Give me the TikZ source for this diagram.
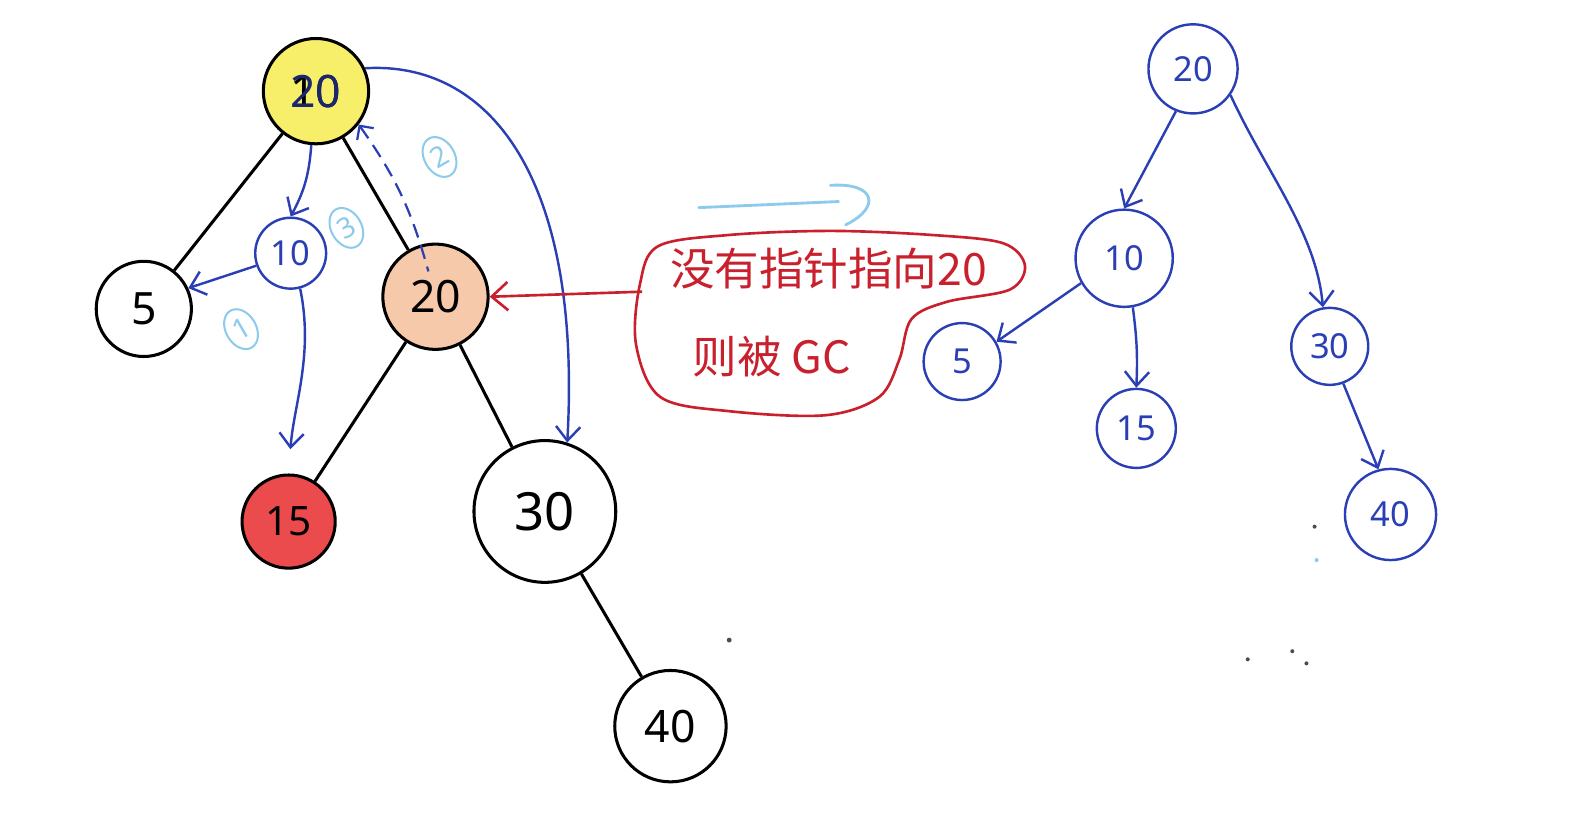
\documentclass[tikz,border=0pt]{standalone}
\usepackage{fontspec}
\newfontfamily\cjk{Noto Sans CJK SC}
\newfontfamily\hand{Noto Sans}
\usetikzlibrary{arrows.meta,shapes.geometric}
\definecolor{penblue}{HTML}{2B3FB5}
\definecolor{lightpen}{HTML}{8CCBEB}
\definecolor{penred}{HTML}{C8202C}
\definecolor{hlyellow}{HTML}{F7EE6A}
\definecolor{hlpeach}{HTML}{F5C9AA}
\definecolor{hlred}{HTML}{EC4B4D}
\begin{document}
\begin{tikzpicture}[x=0.5pt,y=-0.5pt,
  bnode/.style={circle,draw=black,line width=1.5pt,inner sep=0pt,font=\hand\fontsize{22}{22}\selectfont},
  unode/.style={circle,draw=penblue,line width=1.2pt,inner sep=0pt,text=penblue,font=\hand\fontsize{17}{17}\selectfont},
  bedge/.style={draw=black,line width=1.5pt},
  barrow/.style={draw=penblue,line width=1.2pt,-{Straight Barb[length=7pt,width=12pt]}},
  tag/.style={ellipse,draw=lightpen,line width=1pt,text=lightpen,inner sep=0pt,minimum width=15pt,minimum height=21pt,font=\hand\fontsize{14}{14}\selectfont}]
\useasboundingbox (0,0) rectangle (1568,820);

% ---- left tree ----
\node[bnode,fill=hlyellow,minimum size=52pt] (root) at (312,90) {\ooalign{\hfil 10\hfil\cr\hfil\textcolor{penblue!60!black}{20}\hfil}};
\node[bnode,minimum size=47pt] (n5) at (142,305) {5};
\node[unode,minimum size=35pt] (b10) at (287,250) {10};
\node[bnode,fill=hlpeach,minimum size=52pt] (o20) at (430,293) {20};
\node[bnode,fill=hlred,minimum size=46pt,font=\hand\fontsize{20}{20}\selectfont] (r15) at (285,515) {15};
\node[bnode,minimum size=70pt,font=\hand\fontsize{26}{26}\selectfont] (n30) at (538,505) {30};
\node[bnode,minimum size=55pt] (n40) at (662,717) {40};

\draw[bedge] (root) -- (n5);
\draw[bedge] (root) -- (o20);
\draw[bedge] (o20) -- (r15);
\draw[bedge] (o20) -- (n30);
\draw[bedge] (n30) -- (n40);

% blue pointer changes
\draw[barrow] (root.-95) to[bend left=12] (b10.north);
\draw[barrow] (b10.-160) -- (n5.25);
\draw[barrow,shorten >=12pt] (b10.-75) .. controls (310,350) and (290,400) .. (r15.north);
\draw[barrow] (root.25) .. controls (480,60) and (575,170) .. (n30.72);
\coordinate (dstart) at (423,268);
\draw[penblue,line width=1.1pt,dashed,dash pattern=on 7pt off 4pt,{Straight Barb[length=5pt,width=10pt]}-] (root.-38) to[bend left=10] (dstart);

\node[tag,rotate=30] (t1) at (238,325) {1};
\node[tag,rotate=30] (t2) at (434,155) {2};
\node[tag,rotate=30] (t3) at (342,225) {3};

% ---- transition arrow ----
\coordinate (sa) at (690,205);
\coordinate (sb) at (828,199);
\draw[lightpen,line width=1.4pt,line cap=round] (sa) -- (sb);
\coordinate (ha) at (820,183);
\coordinate (hb) at (835,222);
\draw[lightpen,line width=1.4pt,line cap=round] (ha) .. controls (865,180) and (870,205) .. (hb);

% ---- red bubble ----
\draw[penred,line width=1.3pt] plot[smooth cycle,tension=0.55] coordinates {
  (650,243) (720,232) (820,228) (920,232) (990,240) (1012,262) (997,286)
  (935,298) (900,315) (888,355) (868,392) (815,410) (720,406) (652,392) (628,340) (632,280)};
\node[text=penred,font=\cjk\fontsize{22}{22}\selectfont,inner sep=0pt] (msg1) at (818,265) {没有指针指向20};
\node[text=penred,font=\cjk\fontsize{22}{22}\selectfont,inner sep=0pt] (msg2) at (762,352) {则被 GC};
\coordinate (bl) at (634,288);
\draw[penred,line width=1.3pt,-{Straight Barb[length=8pt,width=14pt]}] (bl) -- (o20.east);

% ---- right tree ----
\node[unode,minimum size=44pt] (R20) at (1178,68) {20};
\node[unode,minimum size=48pt] (R10) at (1110,255) {10};
\node[unode,minimum size=38pt] (R5) at (950,357) {5};
\node[unode,minimum size=39pt] (R15) at (1122,423) {15};
\node[unode,minimum size=38pt] (R30) at (1313,342) {30};
\node[unode,minimum size=45pt] (R40) at (1373,508) {40};

\draw[barrow] (R20.-112) -- (R10.north);
\draw[barrow] (R20.-35) .. controls (1250,170) and (1300,230) .. (R30.100);
\draw[barrow] (R10.-150) -- (R5.30);
\draw[barrow] (R10.-80) to[bend left=5] (R15.north);
\draw[barrow] (R30.-70) -- (R40.105);

% stray dots
\fill[black!70] (720,632) circle (1.2pt);
\fill[black!70] (1298,520) circle (1pt);
\fill[black!70] (1232,651) circle (1pt);
\fill[black!70] (1290,655) circle (1pt);
\fill[black!70] (1276,643) circle (1pt);
\fill[lightpen] (1300,553) circle (1pt);
\end{tikzpicture}
\end{document}
